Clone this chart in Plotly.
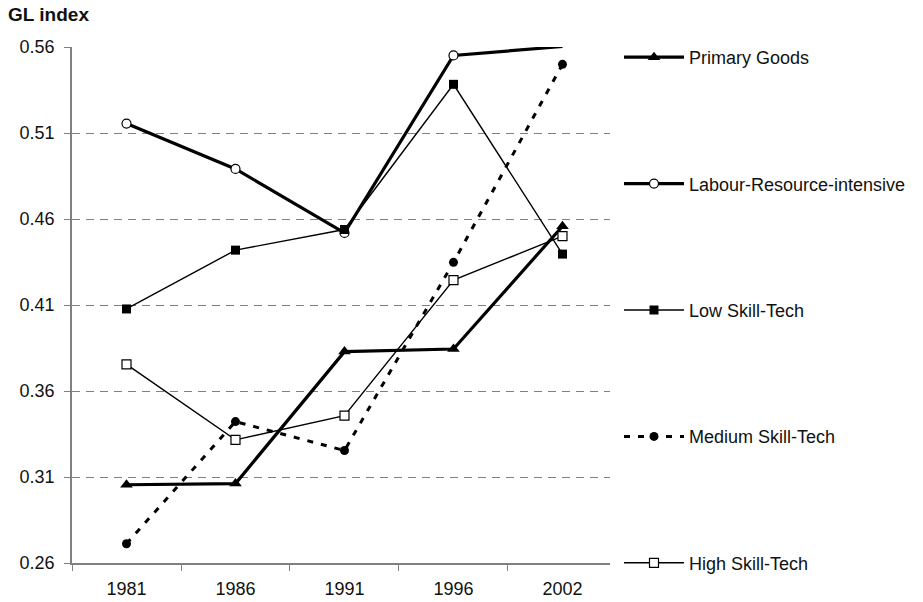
import plotly.graph_objects as go

years = ["1981", "1986", "1991", "1996", "2002"]

primary_goods = [0.3055, 0.3062, 0.3829, 0.3844, 0.4558]
labour_resource = [0.5155, 0.4891, 0.4519, 0.5551, 0.5603]
low_skill = [0.4077, 0.4419, 0.4539, 0.5383, 0.4396]
medium_skill = [0.2712, 0.3422, 0.3254, 0.4348, 0.5499]
high_skill = [0.3755, 0.3316, 0.3457, 0.4245, 0.4500]

y_ticks = [0.26, 0.31, 0.36, 0.41, 0.46, 0.51, 0.56]

series = [
    ("Primary Goods", primary_goods, 3.2, "solid",
     dict(symbol="triangle-up", size=11, color="black", line=dict(color="black", width=0))),
    ("Labour-Resource-intensive", labour_resource, 3.2, "solid",
     dict(symbol="circle", size=9, color="white", line=dict(color="black", width=1.2))),
    ("Low Skill-Tech", low_skill, 1.4, "solid",
     dict(symbol="square", size=9, color="black", line=dict(color="black", width=0))),
    ("Medium Skill-Tech", medium_skill, 3, "6px,8px",
     dict(symbol="circle", size=9, color="black", line=dict(color="black", width=0))),
    ("High Skill-Tech", high_skill, 1.4, "solid",
     dict(symbol="square", size=9, color="white", line=dict(color="black", width=1.2))),
]

fig = go.Figure()
for i, (name, vals, width, dash, marker) in enumerate(series):
    fig.add_trace(go.Scatter(
        x=years, y=vals, name=name, mode="lines+markers",
        line=dict(color="black", width=width, dash=dash),
        marker=marker, legendgroup=f"g{i}", cliponaxis=False,
    ))

font_family = "Liberation Sans, Arial, sans-serif"

L, R, T, B = 72, 313, 47, 39
W, H = 923, 602
pw = W - L - R
ph = H - T - B

fig.update_layout(
    width=W, height=H,
    margin=dict(l=L, r=R, t=T, b=B, autoexpand=False),
    paper_bgcolor="white", plot_bgcolor="white",
    font=dict(family=font_family, size=17, color="#111"),
    showlegend=True,
    legend=dict(
        x=(619 - L) / pw, y=(H - B - 39) / ph, xanchor="left", yanchor="top",
        tracegroupgap=100, font=dict(size=18, color="#111"),
        bgcolor="rgba(0,0,0,0)", itemwidth=60, maxheight=600,
    ),
    xaxis=dict(
        type="category", range=[-0.5, 4.436],
        showline=True, linecolor="#808080", linewidth=1.5,
        ticks="outside", ticklen=6, tickcolor="#808080", tickwidth=1,
        tickson="boundaries", showgrid=False, zeroline=False,
        ticklabelstandoff=9, automargin=False,
        tickfont=dict(size=18, color="#111"),
    ),
    yaxis=dict(
        range=[0.26, 0.56], tickvals=y_ticks,
        ticktext=[f"{v:.2f}" for v in y_ticks],
        showline=True, linecolor="#808080", linewidth=1.5,
        ticks="outside", ticklen=6, tickcolor="#808080", tickwidth=1,
        showgrid=True, gridcolor="#808080", gridwidth=1, griddash="8px,6px",
        zeroline=False, ticklabelstandoff=6, automargin=False,
        tickfont=dict(size=18, color="#111"),
    ),
    annotations=[dict(
        text="<b>GL index</b>", xref="paper", yref="paper",
        x=(6 - L) / pw, y=(H - B - 15) / ph,
        xanchor="left", yanchor="middle",
        showarrow=False, font=dict(size=19, color="#111"),
    )],
)

fig.write_html("out.html")
